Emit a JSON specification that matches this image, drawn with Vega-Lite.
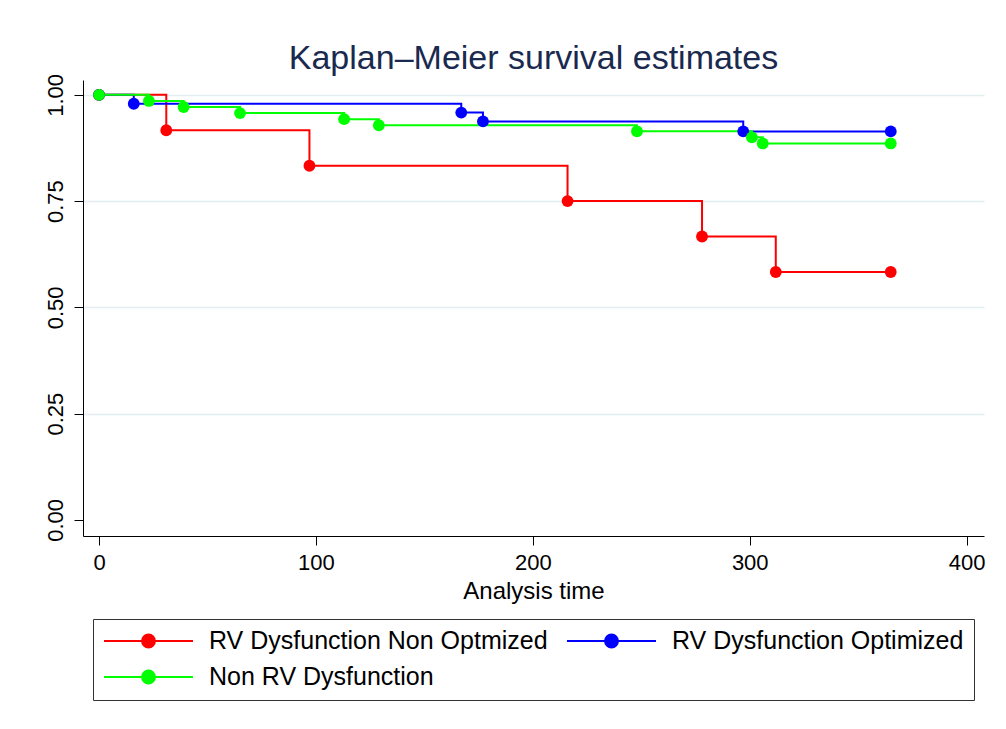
{
  "$schema": "https://vega.github.io/schema/vega-lite/v6.json",
  "width": 901,
  "height": 456,
  "autosize": {"type": "none"},
  "padding": {"left": 83, "top": 80, "right": 22, "bottom": 193},
  "background": "white",
  "title": {
    "text": "Kaplan–Meier survival estimates",
    "font": "Liberation Sans",
    "fontSize": 34,
    "fontWeight": "normal",
    "color": "#1a2a4f",
    "anchor": "middle",
    "offset": -3
  },
  "config": {
    "view": {"stroke": null},
    "font": "Liberation Sans",
    "axis": {
      "domainColor": "#000000",
      "tickColor": "#000000",
      "tickSize": 9,
      "labelFont": "Liberation Sans",
      "labelFontSize": 22,
      "labelColor": "#000000",
      "titleFont": "Liberation Sans",
      "titleFontSize": 24,
      "titleFontWeight": "normal",
      "titleColor": "#000000"
    }
  },
  "data": {
    "values": [
      {"group": "RV Dysfunction Non Optmized", "time": 0, "survival": 1.0},
      {"group": "RV Dysfunction Non Optmized", "time": 31, "survival": 0.9167},
      {"group": "RV Dysfunction Non Optmized", "time": 97, "survival": 0.8333},
      {"group": "RV Dysfunction Non Optmized", "time": 216, "survival": 0.75},
      {"group": "RV Dysfunction Non Optmized", "time": 278, "survival": 0.6667},
      {"group": "RV Dysfunction Non Optmized", "time": 312, "survival": 0.5833},
      {"group": "RV Dysfunction Non Optmized", "time": 365, "survival": 0.5833},
      {"group": "RV Dysfunction Optimized", "time": 0, "survival": 1.0},
      {"group": "RV Dysfunction Optimized", "time": 16, "survival": 0.9792},
      {"group": "RV Dysfunction Optimized", "time": 167, "survival": 0.9583},
      {"group": "RV Dysfunction Optimized", "time": 177, "survival": 0.9375},
      {"group": "RV Dysfunction Optimized", "time": 297, "survival": 0.914},
      {"group": "RV Dysfunction Optimized", "time": 365, "survival": 0.914},
      {"group": "Non RV Dysfunction", "time": 0, "survival": 1.0},
      {"group": "Non RV Dysfunction", "time": 23, "survival": 0.9857},
      {"group": "Non RV Dysfunction", "time": 39, "survival": 0.9714},
      {"group": "Non RV Dysfunction", "time": 65, "survival": 0.9571},
      {"group": "Non RV Dysfunction", "time": 113, "survival": 0.9429},
      {"group": "Non RV Dysfunction", "time": 129, "survival": 0.9286},
      {"group": "Non RV Dysfunction", "time": 248, "survival": 0.9143},
      {"group": "Non RV Dysfunction", "time": 301, "survival": 0.9},
      {"group": "Non RV Dysfunction", "time": 306, "survival": 0.8857},
      {"group": "Non RV Dysfunction", "time": 365, "survival": 0.8857}
    ]
  },
  "encoding": {
    "x": {
      "field": "time",
      "type": "quantitative",
      "scale": {"domain": [-7.4, 408], "nice": false, "zero": false},
      "axis": {
        "values": [0, 100, 200, 300, 400],
        "title": "Analysis time",
        "grid": false,
        "labelPadding": 7,
        "titlePadding": 6
      }
    },
    "y": {
      "field": "survival",
      "type": "quantitative",
      "scale": {"domain": [-0.038, 1.035], "nice": false, "zero": false},
      "axis": {
        "values": [0, 0.25, 0.5, 0.75, 1],
        "format": ".2f",
        "title": null,
        "labelAngle": -90,
        "labelPadding": 7,
        "grid": true,
        "gridColor": {"condition": {"test": "datum.value === 0", "value": "transparent"}, "value": "#e4eef0"},
        "gridWidth": 1.5
      }
    },
    "color": {
      "field": "group",
      "type": "nominal",
      "scale": {
        "domain": ["RV Dysfunction Non Optmized", "RV Dysfunction Optimized", "Non RV Dysfunction"],
        "range": ["#ff0000", "#0000ff", "#00ff00"]
      },
      "legend": {
        "orient": "none",
        "legendX": 10,
        "legendY": 539,
        "direction": "horizontal",
        "title": null,
        "columns": 2,
        "strokeColor": "#333333",
        "fillColor": "white",
        "padding": 10,
        "symbolType": "M-1,0L1,0M-0.145,0A0.145,0.145,0,1,1,0.145,0A0.145,0.145,0,1,1,-0.145,0Z",
        "symbolSize": 7921,
        "symbolStrokeWidth": 2,
        "clipHeight": 24,
        "rowPadding": 11,
        "columnPadding": 18,
        "labelOffset": 15,
        "labelFont": "Liberation Sans",
        "labelFontSize": 25,
        "labelColor": "#000000",
        "labelLimit": 600,
        "encode": {
          "symbols": {
            "update": {
              "fill": {"scale": "color", "field": "value"},
              "stroke": {"scale": "color", "field": "value"},
              "opacity": {"value": 1}
            }
          }
        }
      }
    }
  },
  "layer": [
    {"mark": {"type": "line", "interpolate": "step-after", "strokeWidth": 2}},
    {"mark": {"type": "point", "filled": true, "size": 140, "opacity": 1}}
  ]
}
